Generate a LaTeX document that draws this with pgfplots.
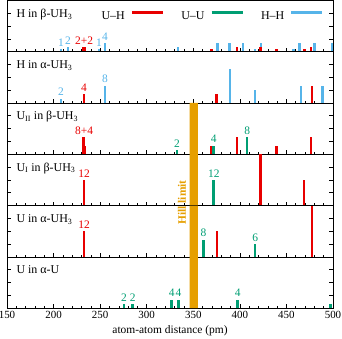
\documentclass[border=0pt]{standalone}
\usepackage{pgfplots}
\pgfplotsset{compat=1.18}
\usetikzlibrary{calc}
\usepackage{fontspec}
\setmainfont{Liberation Serif}
\definecolor{cUH}{RGB}{232,0,0}
\definecolor{cUU}{RGB}{0,158,115}
\definecolor{cHH}{RGB}{86,180,233}
\definecolor{cHill}{RGB}{230,159,0}
\pgfplotsset{
  panel/.style={
    scale only axis, width=326bp, height=51.3bp,
    xmin=150, xmax=500, ymin=0, ymax=24,
    xtick={150,200,...,500}, minor x tick num=4,
    xtick pos=bottom, ytick={6,12,18}, yticklabels={},
    major tick length=4bp, minor tick length=2.3bp,
    tick style={black, line width=0.5bp},
    axis line style={line width=0.6bp},
    clip mode=individual,
    tick label style={font=\fontsize{11}{13}\selectfont},
    /pgf/number format/assume math mode=true,
  },
  noxl/.style={xticklabels={}},
  bar/.style={ycomb, draw=#1, line width=2.7bp, forget plot, mark=none},
  hill/.style={fill=cHill, draw=none, forget plot},
}
\tikzset{
  cnt/.style={anchor=south, inner sep=0pt, yshift=2.5bp, text=#1, font=\fontsize{11.5}{13}\selectfont},
  plabel/.style={anchor=base west, font=\fontsize{12}{14}\selectfont, xshift=6bp, yshift=-17bp},
}
\begin{document}
\begin{tikzpicture}
% Panel 1: H in beta-UH3
\begin{axis}[panel, noxl, name=p1, at={(0,0)}, anchor=north west,
  legend plot pos=right,
  legend columns=3,
  legend image code/.code={\draw[#1, line width=3bp] (0bp,3.8bp) -- (31bp,3.8bp); \path[draw=none, fill=none] (-7bp,0bp) -- (31bp,0bp);},
  legend style={draw=none, fill=none, inner sep=0pt, column sep=0pt,
    nodes={inner sep=0pt},
    at={(rel axis cs:0.9724,0.793)}, anchor=north east,
    font=\fontsize{12}{14}\selectfont},
]
\addlegendimage{draw=cUH}\addlegendentry{\hspace*{17bp}U--H}
\addlegendimage{draw=cUU}\addlegendentry{\hspace*{17bp}U--U}
\addlegendimage{draw=cHH}\addlegendentry{\hspace*{17bp}H--H}
\addplot[bar=cHH] coordinates {(208,1) (215.5,2) (248.8,1) (255.3,4) (333.7,2) (376.3,4) (388.8,4) (403.5,4) (416.4,1) (422.8,4) (457.5,1) (464,4) (480,4) (499,4)};
\addplot[bar=cUH] coordinates {(232,2) (233.5,2) (369.9,1) (397,2) (422,2) (439,1) (469.3,1) (476.5,2)};
\node[plabel] at (rel axis cs:0,1) {H in β-UH\textsubscript{3}};
\node[cnt=cHH] at (axis cs:208,1) {1};
\node[cnt=cHH] at (axis cs:215.5,2) {2};
\node[cnt=cUH] at (axis cs:232.7,2) {2+2};
\node[cnt=cHH] at (axis cs:248.8,1) {1};
\node[cnt=cHH] at (axis cs:255.3,4) {4};
\end{axis}
% Panel 2: H in alpha-UH3
\begin{axis}[panel, noxl, name=p2, at={(p1.south west)}, anchor=north west]
\addplot[bar=cHH] coordinates {(208,2) (255.3,8) (389.5,16) (416.4,6) (465.8,8) (489,8)};
\addplot[bar=cUH] coordinates {(232.7,4) (375.2,4) (477.3,8)};
\node[plabel] at (rel axis cs:0,1) {H in α-UH\textsubscript{3}};
\node[cnt=cHH] at (axis cs:208,2) {2};
\node[cnt=cUH] at (axis cs:232.7,4) {4};
\node[cnt=cHH] at (axis cs:255.3,8) {8};
\end{axis}
% Panel 3: U_II in beta-UH3
\begin{axis}[panel, noxl, name=p3, at={(p2.south west)}, anchor=north west]
\addplot[hill] coordinates {(346,0) (346,24) (355,24) (355,0)} \closedcycle;
\addplot[bar=cUH] coordinates {(232.5,8) (233,4) (369.9,4) (397,8) (439,4) (476.5,8)};
\addplot[bar=cUU] coordinates {(332.6,2) (372,4) (407.8,8)};
\node[plabel] at (rel axis cs:0,1) {U\textsubscript{II} in β-UH\textsubscript{3}};
\node[cnt=cUH] at (axis cs:232.7,8) {8+4};
\node[cnt=cUU] at (axis cs:332.6,2) {2};
\node[cnt=cUU] at (axis cs:372,4) {4};
\node[cnt=cUU] at (axis cs:407.8,8) {8};
\end{axis}
% Panel 4: U_I in beta-UH3
\begin{axis}[panel, noxl, name=p4, at={(p3.south west)}, anchor=north west]
\addplot[hill] coordinates {(346,0) (346,24) (355,24) (355,0)} \closedcycle;
\addplot[bar=cUH] coordinates {(232.7,12) (422,24) (469,12)};
\addplot[bar=cUU] coordinates {(372,12)};
\node[plabel] at (rel axis cs:0,1) {U\textsubscript{I} in β-UH\textsubscript{3}};
\node[cnt=cUH] at (axis cs:232.7,12) {12};
\node[cnt=cUU] at (axis cs:372,12) {12};
\end{axis}
% Panel 5: U in alpha-UH3
\begin{axis}[panel, noxl, name=p5, at={(p4.south west)}, anchor=north west]
\addplot[hill] coordinates {(346,0) (346,24) (355,24) (355,0)} \closedcycle;
\addplot[bar=cUH] coordinates {(232.7,12) (375.6,12) (477.3,24)};
\addplot[bar=cUU] coordinates {(360.9,8) (416.4,6)};
\node[plabel] at (rel axis cs:0,1) {U in α-UH\textsubscript{3}};
\node[cnt=cUH] at (axis cs:232.7,12) {12};
\node[cnt=cUU] at (axis cs:360.9,8) {8};
\node[cnt=cUU] at (axis cs:416.4,6) {6};
\end{axis}
% Panel 6: U in alpha-U
\begin{axis}[panel, name=p6, at={(p5.south west)}, anchor=north west,
  xlabel={atom-atom distance (pm)},
  xlabel style={font=\fontsize{11.5}{13}\selectfont}]
\addplot[hill] coordinates {(346,0) (346,24) (355,24) (355,0)} \closedcycle;
\addplot[bar=cUU] coordinates {(275.7,2) (285,2) (326.9,4) (334,4) (397.8,4) (497,2)};
\node[plabel] at (rel axis cs:0,1) {U in α-U};
\node[cnt=cUU] at (axis cs:275.7,2) {2};
\node[cnt=cUU] at (axis cs:285,2) {2};
\node[cnt=cUU] at (axis cs:326.9,4) {4};
\node[cnt=cUU] at (axis cs:334,4) {4};
\node[cnt=cUU] at (axis cs:397.8,4) {4};
\end{axis}
\node[rotate=90, text=cHill, font=\bfseries\fontsize{11.5}{13}\selectfont] at ($(p4.south west)+(175bp,3bp)$) {Hill limit};
\pgfresetboundingbox
\path ($(p1.north west)+(-7bp,0.3bp)$) rectangle ($(p6.south east)+(9bp,-30.7bp)$);
\end{tikzpicture}
\end{document}
